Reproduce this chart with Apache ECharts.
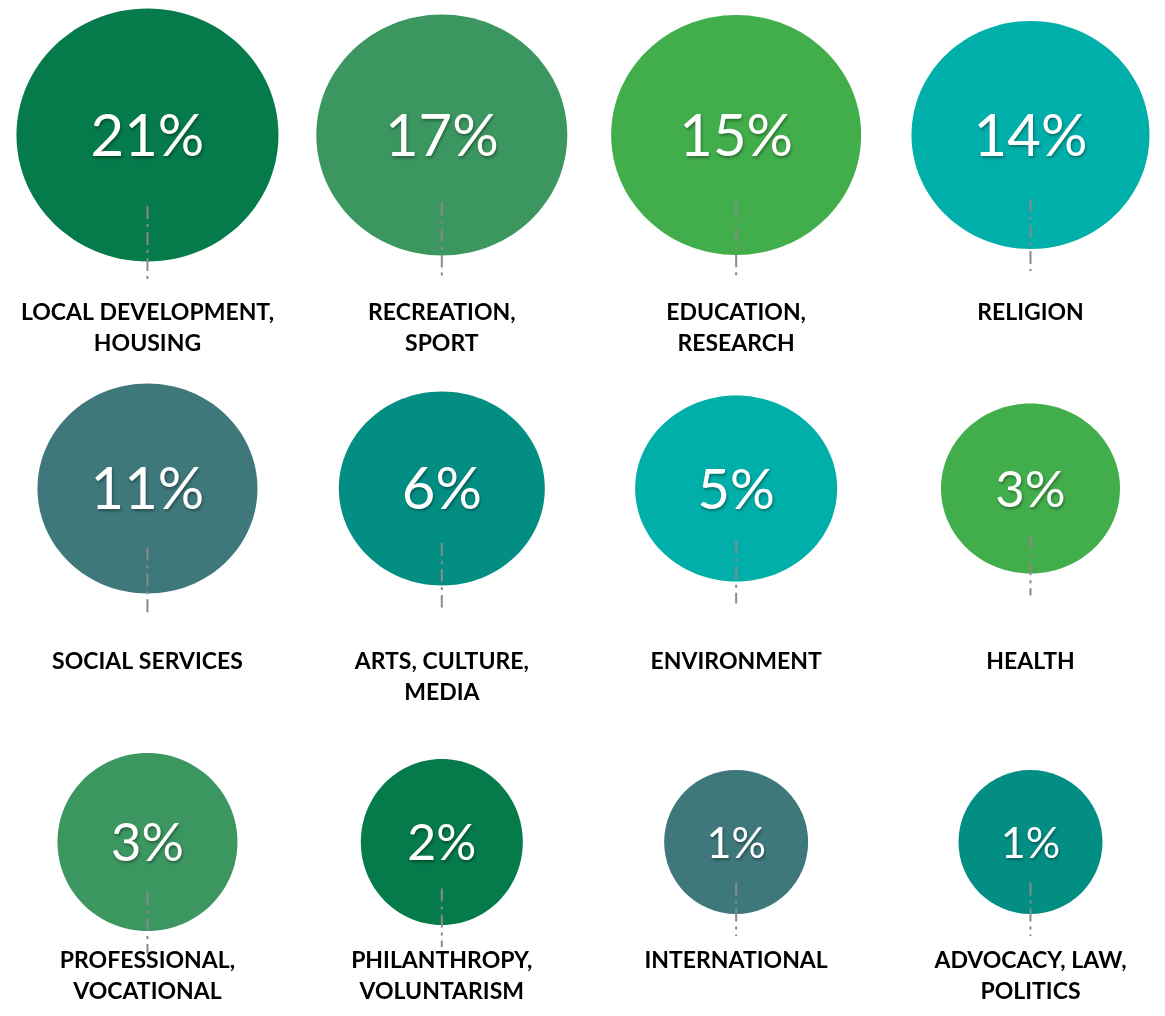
<!DOCTYPE html>
<html>
<head>
<meta charset="utf-8">
<title>Sectors</title>
<script src="https://cdn.jsdelivr.net/npm/echarts@6/dist/echarts.min.js"></script>
<style>
  html, body { margin: 0; padding: 0; background: #ffffff; }
  #chart { width: 1165px; height: 1016px; }
</style>
</head>
<body>
<div id="chart"></div>
<script>
// data
const categories = [
    'LOCAL DEVELOPMENT,\nHOUSING', 'RECREATION,\nSPORT', 'EDUCATION,\nRESEARCH', 'RELIGION',
    'SOCIAL SERVICES', 'ARTS, CULTURE,\nMEDIA', 'ENVIRONMENT', 'HEALTH',
    'PROFESSIONAL,\nVOCATIONAL', 'PHILANTHROPY,\nVOLUNTARISM', 'INTERNATIONAL', 'ADVOCACY, LAW,\nPOLITICS'
];
const values = [21, 17, 15, 14, 11, 6, 5, 3, 3, 2, 1, 1];

// styling
const colors = [
    '#057a4b', '#3c9660', '#42ae4b', '#00afaa',
    '#3e787b', '#038e84', '#00afaa', '#42ae4b',
    '#3c9660', '#057a4b', '#3e787b', '#038e84'
];
const bubbleSize = [
    [262, 253], [251, 241], [250, 240], [238, 228],
    [220, 210], [206, 194], [202, 186], [179, 170],
    [180, 178], [162, 166], [144, 144], [144, 144]
];
const labelDy = [178, 173, 119];
const COLS = 4;

const chart = echarts.init(document.getElementById('chart'));

const points = values.map((v, i) => [i % COLS, Math.floor(i / COLS), v]);

const option = {
    backgroundColor: '#ffffff',
    animation: false,
    grid: { left: 0, right: 0, top: 0, bottom: 0 },
    // axis ranges chosen so that cell centres land where the reference puts them
    xAxis: { type: 'value', min: -0.501, max: 3.457, show: false },
    yAxis: { type: 'value', min: -0.382, max: 2.492, inverse: true, show: false },
    series: [{
        type: 'custom',
        data: points,
        renderItem: function (params, api) {
            const i = params.dataIndex;
            const row = api.value(1);
            const p = api.coord([api.value(0), row]);
            const w = bubbleSize[i][0], h = bubbleSize[i][1];
            const fs = Math.min(58, Math.round(h * 0.3));
            return {
                type: 'group',
                children: [
                    {
                        type: 'ellipse',
                        shape: { cx: p[0], cy: p[1], rx: w / 2, ry: h / 2 },
                        style: { fill: colors[i] }
                    },
                    {
                        type: 'line',
                        shape: { x1: p[0], y1: p[1] + h * 0.28, x2: p[0], y2: p[1] + h / 2 + 22 },
                        style: { stroke: '#8a8a8a', lineWidth: 2, lineDash: [13, 5, 3, 5] }
                    },
                    {
                        type: 'text',
                        x: p[0],
                        y: p[1] + 2,
                        style: {
                            text: api.value(2) + '%',
                            fill: '#ffffff',
                            fontFamily: 'Lato',
                            fontSize: fs,
                            align: 'center',
                            verticalAlign: 'middle',
                            textShadowColor: 'rgba(0,0,0,0.35)',
                            textShadowBlur: 3,
                            textShadowOffsetX: 1,
                            textShadowOffsetY: 2
                        }
                    },
                    {
                        type: 'text',
                        x: p[0],
                        y: p[1] + labelDy[row] - 15.5,
                        style: {
                            text: categories[i],
                            fill: '#000000',
                            fontFamily: 'Lato',
                            fontWeight: 'bold',
                            fontSize: 23,
                            lineHeight: 31,
                            align: 'center',
                            verticalAlign: 'top'
                        }
                    }
                ]
            };
        }
    }]
};

chart.setOption(option);
</script>
</body>
</html>
